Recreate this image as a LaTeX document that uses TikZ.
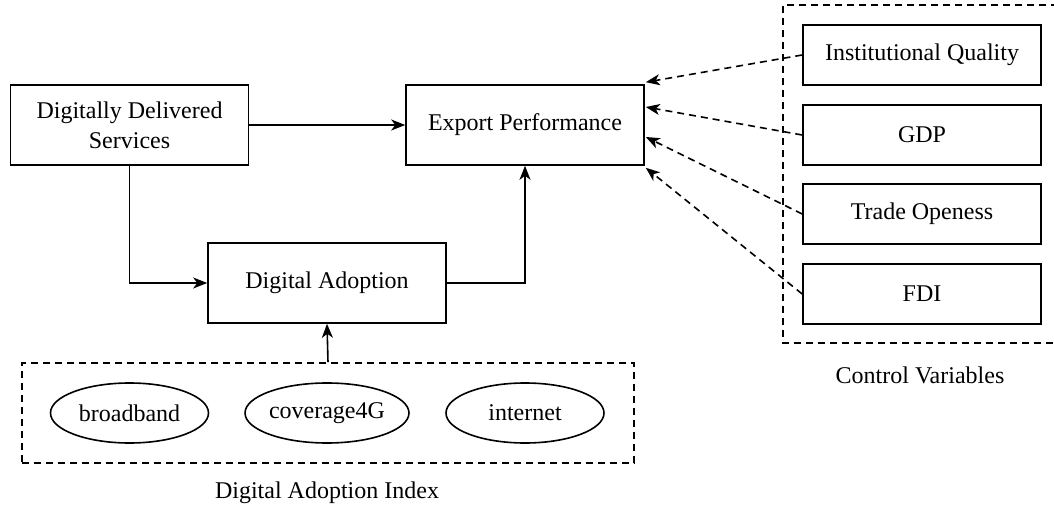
\documentclass[tikz,border=0pt]{standalone}
\usepackage{fontspec}
\setmainfont{Liberation Serif}
\usetikzlibrary{arrows.meta,shapes.geometric,calc}
\begin{document}
\begin{tikzpicture}[x=1pt,y=-1pt,
  font=\fontsize{24}{30}\selectfont,
  box/.style={draw,line width=1.6pt,minimum width=238pt,minimum height=80pt,align=center,inner sep=0pt},
  cbox/.style={draw,line width=1.6pt,minimum width=238pt,minimum height=60pt,inner sep=0pt},
  oval/.style={draw,ellipse,line width=1.6pt,minimum width=158pt,minimum height=60pt,inner sep=0pt},
  group/.style={draw,line width=1.6pt,dash pattern=on 7pt off 5pt},
  arr/.style={line width=1.6pt,-{Stealth[length=14pt,width=11pt,inset=4pt]}},
  darr/.style={arr,dash pattern=on 7pt off 5pt}]
\useasboundingbox (0,0) rectangle (1054,510);
% groups
\node[group,minimum width=612pt,minimum height=100pt,inner sep=0pt] (dai) at (328,413) {};
\draw[group] (1070,5) -- (783,5) -- (783,343) -- (1070,343);
\node (daiL) at (327,493) {Digital Adoption Index};
\node (cvL) at (920,375) {Control Variables};
% main nodes
\node[box] (dds) at (129.5,125) {Digitally Delivered\\Services};
\node[box] (ep) at (525,125) {Export Performance};
\node[box] (da) at (327,283) {Digital Adoption};
% ellipses
\node[oval] (bb) at (129.5,413) {broadband};
\node[oval] (c4) at (327,413) {coverage4G};
\node[oval] (in) at (525,413) {internet};
% controls
\node[cbox] (iq) at (922,55) {Institutional Quality};
\node[cbox] (gdp) at (922,135) {GDP};
\node[cbox] (to) at (922,214) {Trade Openess};
\node[cbox] (fdi) at (922,294) {FDI};
% connectors
\draw[arr] (dds.east) -- (ep.west);
\draw[arr] (dds.south) |- (da.west);
\draw[arr] (da.east) -| (ep.south);
\draw[arr] (dai.north) -- (da.south);
\coordinate (t1) at ($(ep.north east)+(1,-2)$);
\coordinate (t2) at ($(ep.east)+(1,-18)$);
\coordinate (t3) at ($(ep.east)+(1,12)$);
\coordinate (t4) at ($(ep.south east)+(1,2)$);
\draw[darr] (iq.west) -- (t1);
\draw[darr] (gdp.west) -- (t2);
\draw[darr] (to.west) -- (t3);
\draw[darr] (fdi.west) -- (t4);
\end{tikzpicture}
\end{document}
